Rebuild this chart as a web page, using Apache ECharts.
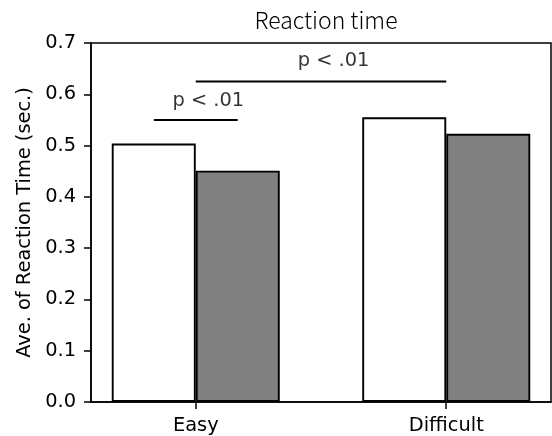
<!DOCTYPE html>
<html>
<head>
<meta charset="utf-8">
<script src="https://cdn.jsdelivr.net/npm/echarts@6/dist/echarts.min.js"></script>
<style>html,body{margin:0;padding:0;background:#fff}#c{width:552px;height:436px}</style>
</head>
<body>
<div id="c"></div>
<script>
const categories = ['Easy', 'Difficult'];
const categoryPos = [0, 1];
const seriesWhite = [0.504, 0.555];
const seriesGray = [0.451, 0.523];
const yTicks = [0, 0.1, 0.2, 0.3, 0.4, 0.5, 0.6, 0.7];
const sigLine1 = [[-0.1673, 0.55], [0.1673, 0.55]];
const sigLine2 = [[0, 0.625], [1, 0.625]];
const sigText = [[0.05, 0.586, 'p < .01'], [0.55, 0.664, 'p < .01']];

const font = 'DejaVu Sans';
const chart = echarts.init(document.getElementById('c'), null, {renderer: 'canvas'});
chart.setOption({
  animation: false,
  backgroundColor: '#fff',
  title: {
    text: 'Reaction time', left: 321, top: 4, textAlign: 'center',
    textStyle: {fontFamily: 'Noto Sans CJK JP', fontSize: 23, fontWeight: 300, color: '#000'}
  },
  grid: {left: 91, right: 1, top: 43, bottom: 34, show: true, borderColor: '#000', borderWidth: 1.5, containLabel: false},
  xAxis: {
    type: 'value', min: -0.4182, max: 1.4182,
    axisLine: {show: true, onZero: false, lineStyle: {color: '#000', width: 1.5}},
    axisTick: {show: true, length: 7, lineStyle: {color: '#000', width: 1.5}, customValues: categoryPos},
    axisLabel: {
      show: true, margin: 14, color: '#000', fontFamily: font, fontSize: 19.4,
      customValues: categoryPos,
      formatter: v => categories[categoryPos.indexOf(Math.round(v))] || ''
    },
    splitLine: {show: false}
  },
  yAxis: {
    type: 'value', min: 0, max: 0.7, interval: 0.1,
    name: 'Ave. of Reaction Time (sec.)', nameLocation: 'middle', nameGap: 56,
    nameTextStyle: {fontFamily: font, fontSize: 19.4, color: '#000'},
    axisLine: {show: true, onZero: false, lineStyle: {color: '#000', width: 1.5}},
    axisTick: {show: true, length: 7, lineStyle: {color: '#000', width: 1.5}},
    axisLabel: {margin: 15, color: '#000', fontFamily: font, fontSize: 19.4, formatter: v => v.toFixed(1)},
    splitLine: {show: false}
  },
  series: [
    {
      type: 'bar', barWidth: 84, barGap: '0%',
      data: categoryPos.map((x, i) => [x, seriesWhite[i]]),
      itemStyle: {color: '#ffffff', borderColor: '#000', borderWidth: 1.9}
    },
    {
      type: 'bar', barWidth: 84, barGap: '0%',
      data: categoryPos.map((x, i) => [x, seriesGray[i]]),
      itemStyle: {color: '#808080', borderColor: '#000', borderWidth: 1.9}
    },
    {
      type: 'line', data: sigLine1, symbol: 'none', silent: true,
      lineStyle: {color: '#000', width: 2}
    },
    {
      type: 'line', data: sigLine2, symbol: 'none', silent: true,
      lineStyle: {color: '#000', width: 2}
    },
    {
      type: 'scatter', symbolSize: 1, itemStyle: {color: 'transparent'},
      data: sigText.map(d => ({value: [d[0], d[1]], label: {formatter: d[2]}})),
      label: {show: true, position: 'inside', color: '#000', fontFamily: font, fontSize: 19.4}
    }
  ]
});
</script>
</body>
</html>
